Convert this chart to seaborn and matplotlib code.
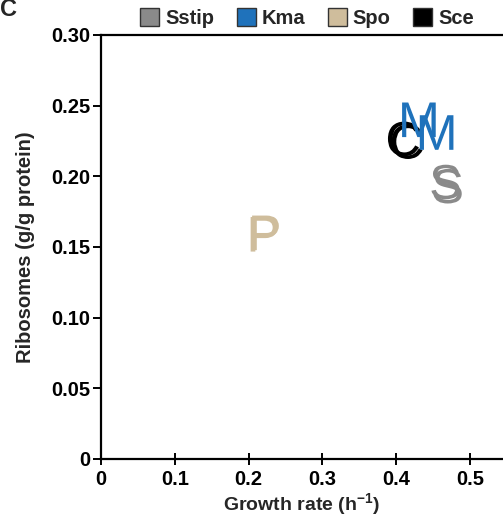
import matplotlib
matplotlib.use("Agg")
import matplotlib.pyplot as plt
import seaborn as sns
import pandas as pd
from matplotlib.patches import Patch

species = ['Sce', 'Sce', 'Kma', 'Kma', 'Spo', 'Spo', 'Sstip', 'Sstip']
growth = [0.410, 0.415, 0.431, 0.455, 0.221, 0.223, 0.467, 0.470]
ribosomes = [0.2265, 0.2245, 0.240, 0.231, 0.159, 0.160, 0.196, 0.193]

legend_order = ['Sstip', 'Kma', 'Spo', 'Sce']
colors = {'Sstip': '#8a8a8a', 'Kma': '#1f72bb', 'Spo': '#cfbd9c', 'Sce': '#000000'}
letters = {'Sstip': r'$\mathrm{S}$', 'Kma': r'$\mathrm{M}$', 'Spo': r'$\mathrm{P}$', 'Sce': r'$\mathrm{C}$'}
xticks = [0, 0.1, 0.2, 0.3, 0.4, 0.5]
xticklabels = ['0', '0.1', '0.2', '0.3', '0.4', '0.5']
yticks = [0, 0.05, 0.10, 0.15, 0.20, 0.25, 0.30]
yticklabels = ['0', '0.05', '0.10', '0.15', '0.20', '0.25', '0.30']

sns.set_style("ticks")
plt.rcParams['font.family'] = ['Liberation Sans', 'DejaVu Sans']
plt.rcParams['mathtext.fontset'] = 'custom'
plt.rcParams['mathtext.rm'] = 'Liberation Sans'
plt.rcParams['mathtext.bf'] = 'Liberation Sans:bold'

df = pd.DataFrame({'species': species, 'growth': growth, 'ribosomes': ribosomes})

fig = plt.figure(figsize=(5.03, 5.19), dpi=100)
ax = fig.add_axes([101/503, 1 - 459/519, 1 - 101/503, (459 - 35)/519])

sns.scatterplot(data=df, x='growth', y='ribosomes', hue='species', style='species',
                palette=colors, markers=letters, s=620, linewidth=0, legend=False, ax=ax)

ax.set_xlim(0, 0.545)
ax.set_ylim(0, 0.30)
ax.set_xticks(xticks)
ax.set_xticklabels(xticklabels, fontsize=14.5, fontweight='bold')
ax.set_yticks(yticks)
ax.set_yticklabels(yticklabels, fontsize=14.5, fontweight='bold')
ax.set_xlabel(r'Growth rate (h$^{\mathbf{-1}}$)', fontsize=14, fontweight='bold', labelpad=2)
ax.set_ylabel('Ribosomes (g/g protein)', fontsize=14.5, fontweight='bold', labelpad=12)
for side in ['left', 'bottom', 'top']:
    ax.spines[side].set_linewidth(1.6)
    ax.spines[side].set_color('black')
ax.spines['right'].set_visible(False)
ax.tick_params(axis='y', direction='out', length=6, width=1.4, pad=1.5, colors='black')
ax.tick_params(axis='x', direction='inout', length=8, width=1.4, pad=4, colors='black')

handles = [Patch(facecolor=colors[k], edgecolor='#333333', linewidth=1.0, label=k) for k in legend_order]
fig.legend(handles=handles, loc='center', bbox_to_anchor=(307/503, 1 - 18/519), ncol=4,
           frameon=False, handlelength=0.95, handleheight=0.95, handletextpad=0.3,
           columnspacing=1.1, prop={'weight': 'bold', 'size': 14.5})

fig.text(0.0, 1.0 + 2/519, 'C', fontsize=17, fontweight='bold', ha='left', va='top')

fig.savefig('out.png', dpi=100)
